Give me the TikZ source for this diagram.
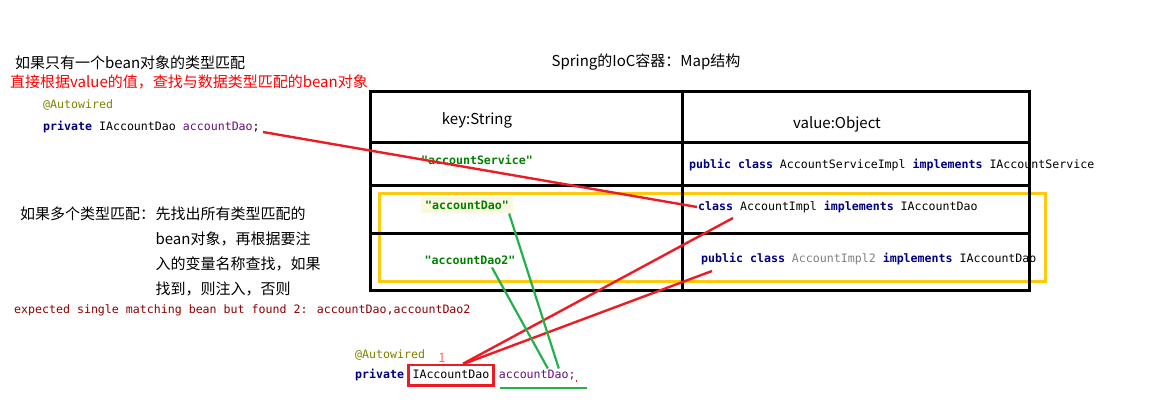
\documentclass[tikz,border=0pt]{standalone}
\usepackage{fontspec}
\setmainfont{Noto Sans CJK SC}
\newfontfamily\codefont{DejaVu Sans Mono}
\usetikzlibrary{positioning}
\definecolor{kwblue}{HTML}{000080}
\definecolor{annot}{HTML}{808000}
\definecolor{fieldc}{HTML}{660E7A}
\definecolor{strgreen}{HTML}{008000}
\definecolor{strbg}{HTML}{FBF8E1}
\definecolor{implgray}{HTML}{808080}
\definecolor{pred}{HTML}{ED1C24}
\definecolor{pgreen}{HTML}{22B14C}
\definecolor{pgold}{HTML}{FFC90E}
\definecolor{errred}{HTML}{8B0000}
\definecolor{onered}{HTML}{FF6A4D}
\newcommand{\kw}[1]{{\color{kwblue}\bfseries #1}}
\tikzstyle{cjktxt}=[inner sep=0pt,anchor=west,font=\fontsize{15}{25}\selectfont]
\tikzstyle{src}=[inner sep=0pt,anchor=west,font=\codefont\fontsize{11.6}{14}\selectfont]
\tikzstyle{keystr}=[src,anchor=center,text=strgreen,font=\codefont\fontsize{11.6}{14}\selectfont\bfseries]
\tikzstyle{tbl}=[line width=3pt]
\tikzstyle{redl}=[draw=pred,line width=2.4pt]
\tikzstyle{greenl}=[draw=pgreen,line width=2.2pt]

\begin{document}
\begin{tikzpicture}[x=1pt,y=-1pt]
  \useasboundingbox (0,0) rectangle (1153,409);
  % notes on the left
  \node[cjktxt] (single) at (15,63) {如果只有一个bean对象的类型匹配};
  \node[cjktxt,text=red] (direct) at (10,82) {直接根据value的值，查找与数据类型匹配的bean对象};
  \node[src,text=annot] (anno1) at (43,105) {@Autowired};
  \node[src] (field1) at (43,127) {\kw{private} IAccountDao {\color{fieldc}accountDao};};
  \node[cjktxt] (multi) at (20,214) {如果多个类型匹配：};
  \node[cjktxt,anchor=north west,align=left] (rule) at (multi.north east) {先找出所有类型匹配的\\bean对象，再根据要注\\入的变量名称查找，如果\\找到，则注入，否则};
  \node[src,text=errred] (err) at (14,310) {expected single matching bean but found 2: accountDao,accountDao2};
  % the map
  \node[cjktxt,anchor=center] (title) at (646,62) {Spring的IoC容器：Map结构};
  \draw[draw=pgold,line width=3pt] (379,193) rectangle (1045,281);
  \draw[tbl] (370,92) rectangle (1029,290);
  \draw[tbl] (682,92) -- (682,290);
  \foreach \y in {142,185,233} \draw[tbl] (370,\y) -- (1029,\y);
  \node[cjktxt,anchor=center] (keyh) at (477,120) {key:String};
  \node[cjktxt,anchor=center] (valh) at (837,124) {value:Object};
  \node[keystr] (k1) at (477,160) {"accountService"};
  \node[src] (v1) at (689,165) {\kw{public} \kw{class} AccountServiceImpl \kw{implements} IAccountService};
  \node[keystr,fill=strbg,inner xsep=4pt,inner ysep=4pt] (k2) at (467,205) {"accountDao"};
  \node[src] (v2) at (698,207) {\kw{class} AccountImpl \kw{implements} IAccountDao};
  \node[keystr] (k3) at (470,260) {"accountDao2"};
  \node[src] (v3) at (701,259) {\kw{public} \kw{class} {\color{implgray}AccountImpl2} \kw{implements} IAccountDao};
  % the field to inject
  \node[src,text=annot] (anno2) at (355,355) {@Autowired};
  \node[src] (priv2) at (355,375) {\kw{private}};
  \node[src,draw=pred,line width=2.5pt,inner xsep=4pt,inner ysep=4.5pt,text height=9pt,text depth=2.5pt,base right=3pt of priv2] (itype) {IAccountDao};
  \node[src,base right=4pt of itype] (fld2) {\color{fieldc}accountDao;};
  \node[inner sep=0pt,text=onered,font=\fontsize{13}{13}\selectfont] (one) at (442,358) {1};
  \coordinate (ra) at (733,218);
  \coordinate (rb) at (712,271);
  \draw[redl] ([xshift=3pt,yshift=-5pt]field1.east) -- ([xshift=-1pt]v2.west);
  \draw[redl] ([xshift=12pt]itype.north) -- (ra);
  \draw[redl] ([xshift=13pt]itype.north) -- (rb);
  \draw[greenl] ([xshift=-4pt]k2.south east) -- ([xshift=-17pt,yshift=10pt]fld2.base east);
  \draw[greenl] ([xshift=22pt,yshift=-3pt]k3.south) -- ([xshift=-28pt,yshift=10pt]fld2.base east);
  \draw[greenl] ([xshift=1pt,yshift=-9.5pt]fld2.base west) -- ([xshift=11pt,yshift=-9.5pt]fld2.base east);
  \fill[pred] (575.5,380) rectangle (577,382);
\end{tikzpicture}
\end{document}
